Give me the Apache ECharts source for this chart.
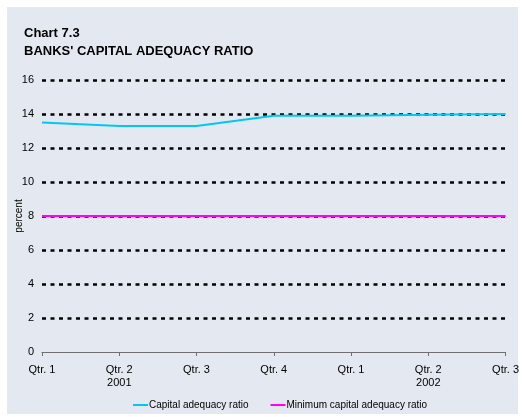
<!DOCTYPE html>
<html>
<head>
<meta charset="utf-8">
<script src="https://cdn.jsdelivr.net/npm/echarts@6/dist/echarts.min.js"></script>
<style>
  html, body { margin: 0; padding: 0; background: #fff; }
  #chart { width: 522px; height: 417px; }
</style>
</head>
<body>
<div id="chart"></div>
<script>
// quarters, 2001 Q1 .. 2002 Q3
var categories = ['Qtr. 1', 'Qtr. 2\n2001', 'Qtr. 3', 'Qtr. 4', 'Qtr. 1', 'Qtr. 2\n2002', 'Qtr. 3'];
var capitalRatio = [13.5, 13.3, 13.3, 13.9, 13.9, 13.95, 14.0];
var minimumRatio = [8, 8, 8, 8, 8, 8, 8];
var seriesNames = ['Capital adequacy ratio', 'Minimum capital adequacy ratio'];
var titleLines = ['Chart 7.3', "BANKS' CAPITAL ADEQUACY RATIO"];

var FONT = '"Liberation Sans", Arial, sans-serif';
var myChart = echarts.init(document.getElementById('chart'));

var option = {
    backgroundColor: '#fff',
    animation: false,
    graphic: [{
        type: 'rect',
        z: -10,
        shape: { x: 7, y: 7, width: 511, height: 407 },
        style: { fill: '#e4e8f0' }
    }],
    title: {
        text: titleLines.join('\n'),
        left: 19,
        top: 19,
        textStyle: {
            fontFamily: FONT,
            fontWeight: 'bold',
            fontSize: 13,
            lineHeight: 18,
            color: '#000'
        }
    },
    legend: {
        bottom: 2,
        left: 128,
        itemWidth: 15,
        itemHeight: 2,
        itemGap: 22,
        icon: 'rect',
        textStyle: { fontFamily: FONT, fontSize: 10, color: '#000', padding: [0, 0, 0, -4] },
        data: seriesNames
    },
    grid: { left: 42, right: 16, top: 80, bottom: 65 },
    xAxis: {
        type: 'category',
        boundaryGap: false,
        data: categories,
        axisLine: { lineStyle: { color: '#707070', width: 1 } },
        axisTick: { alignWithLabel: true, length: 4, lineStyle: { color: '#707070' } },
        axisLabel: {
            fontFamily: FONT,
            fontSize: 11,
            lineHeight: 13,
            color: '#000',
            margin: 11,
            interval: 0
        }
    },
    yAxis: {
        type: 'value',
        min: 0,
        max: 16,
        interval: 2,
        name: 'percent',
        nameLocation: 'middle',
        nameGap: 18,
        nameMoveOverlap: false,
        nameTextStyle: { fontFamily: FONT, fontSize: 10, color: '#000' },
        axisLine: { show: false },
        axisTick: { show: false },
        axisLabel: { fontFamily: FONT, fontSize: 11, color: '#000', margin: 8 },
        splitLine: {
            showMinLine: false,
            lineStyle: { color: '#000', width: 2.5, type: [4, 4.5] }
        }
    },
    series: [
        {
            name: seriesNames[0],
            type: 'line',
            data: capitalRatio,
            symbol: 'none',
            itemStyle: { color: '#00c8f2' },
            lineStyle: { color: '#00c8f2', width: 2 }
        },
        {
            name: seriesNames[1],
            type: 'line',
            data: minimumRatio,
            symbol: 'none',
            itemStyle: { color: '#ff00ff' },
            lineStyle: { color: '#ff00ff', width: 2 }
        }
    ]
};

option && myChart.setOption(option);
</script>
</body>
</html>
